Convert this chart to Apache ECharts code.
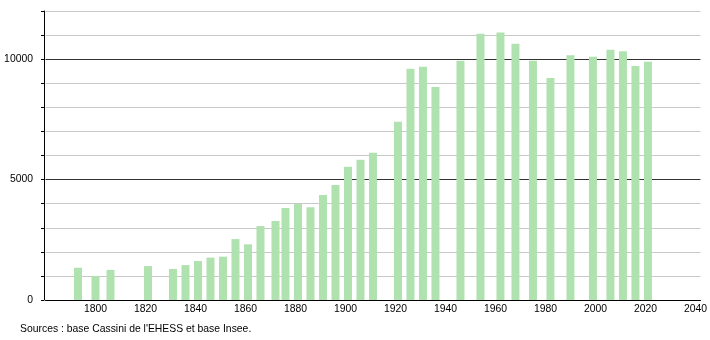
<!DOCTYPE html>
<html><head><meta charset="utf-8">
<script src="https://cdn.jsdelivr.net/npm/echarts@6/dist/echarts.min.js"></script>
<style>html,body{margin:0;padding:0;background:#fff}#c{width:710px;height:340px}</style>
</head><body><div id="c"></div>
<script>
const years = [1793,1800,1806,1821,1831,1836,1841,1846,1851,1856,1861,1866,1872,1876,1881,1886,1891,1896,1901,1906,1911,1921,1926,1931,1936,1946,1954,1962,1968,1975,1982,1990,1999,2006,2011,2016,2021];
const population = [1340,1000,1250,1410,1290,1450,1620,1760,1800,2530,2310,3070,3280,3820,3990,3850,4360,4780,5530,5820,6110,7400,9600,9680,8840,9930,11060,11110,10640,9930,9220,10160,10100,10390,10330,9720,9890];
const xTicks = [1800,1820,1840,1860,1880,1900,1920,1940,1960,1980,2000,2020,2040];
const yTicks = [0,5000,10000];
const sourceText = "Sources : base Cassini de l'EHESS et base Insee.";

const font = 'Liberation Sans, Arial, sans-serif';
const chart = echarts.init(document.getElementById('c'), null, {renderer:'canvas'});
chart.setOption({
  animation:false,
  textStyle:{fontFamily:font},
  grid:{left:45.5,right:9,top:11,bottom:40},
  graphic:[{type:'text',left:20,top:324,style:{text:sourceText,font:'10.4px '+font,fill:'#000'}}],
  xAxis:{type:'value',min:1780,max:2042,interval:20,
    axisLine:{lineStyle:{color:'#000',width:1}},axisTick:{show:false},splitLine:{show:false},
    axisLabel:{color:'#000',fontSize:10.4,margin:4,
      formatter:v=>xTicks.includes(v)?String(v):''}},
  yAxis:{type:'value',min:0,max:12000,interval:1000,offset:1.5,
    axisLine:{show:true,lineStyle:{color:'#000',width:1}},
    axisTick:{show:true,length:3,lineStyle:{color:'#000'}},
    axisLabel:{color:'#000',fontSize:10.4,margin:11,formatter:v=>yTicks.includes(v)?String(v):''},
    splitLine:{show:true,lineStyle:{color:['#333','#c8c8c8','#c8c8c8','#c8c8c8','#c8c8c8'],width:1}}},
  series:[{type:'bar',data:years.map((y,i)=>[y,population[i]]),barWidth:8,
    itemStyle:{color:'#b0e2b0'}}]
});
</script></body></html>
